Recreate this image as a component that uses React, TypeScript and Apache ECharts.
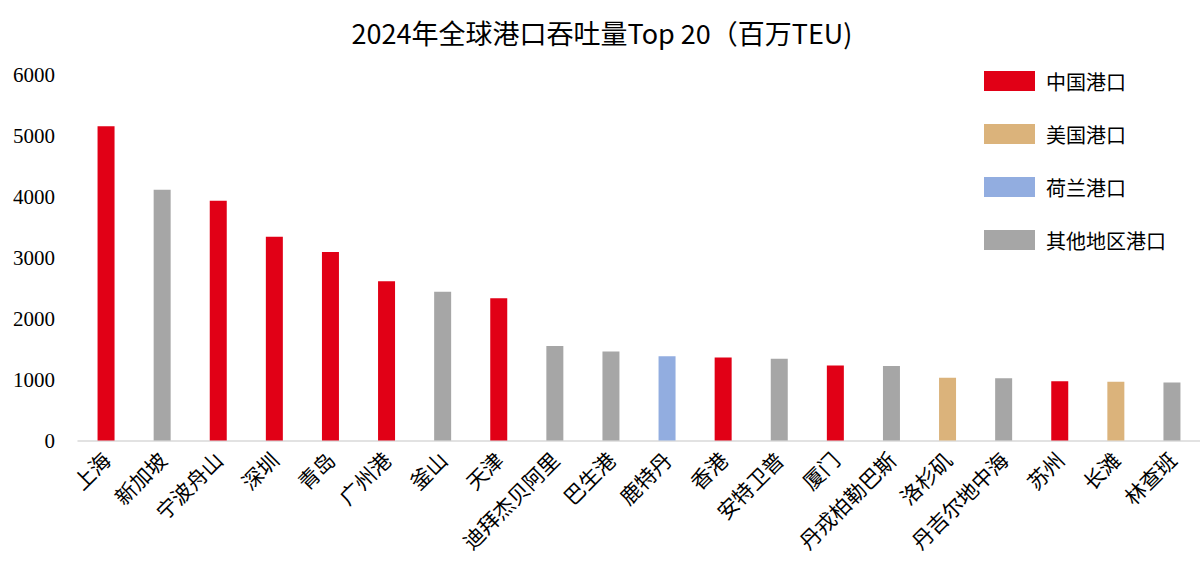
import React, { useEffect, useRef } from "react";
import * as echarts from "echarts";

// 2024 container throughput of the world's top 20 ports
const ports = [
  "上海", "新加坡", "宁波舟山", "深圳", "青岛", "广州港", "釜山", "天津",
  "迪拜杰贝阿里", "巴生港", "鹿特丹", "香港", "安特卫普", "厦门",
  "丹戎柏勒巴斯", "洛杉矶", "丹吉尔地中海", "苏州", "长滩", "林查班",
];
const throughput = [
  5150, 4110, 3930, 3340, 3090, 2610, 2440, 2330, 1550, 1460,
  1380, 1360, 1340, 1230, 1220, 1030, 1020, 970, 965, 950,
];
// group of each port (index into groupNames)
const portGroup = [0, 3, 0, 0, 0, 0, 3, 0, 3, 3, 2, 0, 3, 0, 3, 1, 3, 0, 1, 3];
const groupNames = ["中国港口", "美国港口", "荷兰港口", "其他地区港口"];
const groupColors = ["#E10016", "#DBB37B", "#92ADE0", "#A6A6A6"];
const yTicks = { min: 0, max: 6000, interval: 1000 };

const cjkFont = '"Noto Sans CJK SC", sans-serif';
const serifFont = '"Liberation Serif", "DejaVu Serif", serif';

export default function App() {
  const ref = useRef<HTMLDivElement>(null);

  useEffect(() => {
    if (!ref.current) return;
    const chart = echarts.init(ref.current, null, { renderer: "svg" });

    const series = groupNames.map((name, g) => ({
      name,
      type: "bar",
      stack: "ports",
      barWidth: 17,
      itemStyle: { color: groupColors[g] },
      data: throughput.map((v, i) => (portGroup[i] === g ? v : "-")),
    }));

    chart.setOption({
      animation: false,
      backgroundColor: "#ffffff",
      title: {
        text: "2024年全球港口吞吐量Top 20（百万TEU)",
        left: 597,
        textAlign: "center",
        top: 14,
        textStyle: {
          fontFamily: cjkFont,
          fontSize: 27,
          fontWeight: "normal",
          color: "#000000",
        },
      },
      legend: {
        orient: "vertical",
        left: 984,
        top: 71,
        padding: 0,
        itemWidth: 51,
        itemHeight: 20,
        itemGap: 33,
        icon: "rect",
        textStyle: {
          fontFamily: cjkFont,
          fontSize: 20,
          color: "#000000",
          padding: [0, 0, 0, 6],
        },
        data: groupNames,
      },
      grid: { left: 78, top: 74.5, width: 1133, height: 366, containLabel: false },
      xAxis: {
        type: "category",
        data: ports,
        axisLine: { lineStyle: { color: "#D9D9D9", width: 1.5 } },
        axisTick: { show: false },
        axisLabel: {
          rotate: 45,
          interval: 0,
          margin: 15,
          fontFamily: cjkFont,
          fontSize: 21,
          color: "#000000",
        },
      },
      yAxis: {
        type: "value",
        min: yTicks.min,
        max: yTicks.max,
        interval: yTicks.interval,
        axisLine: { show: false },
        axisTick: { show: false },
        splitLine: { show: false },
        axisLabel: {
          margin: 23,
          formatter: (v: number) => String(v),
          fontFamily: serifFont,
          fontSize: 21,
          color: "#000000",
        },
      },
      series,
    });

    return () => chart.dispose();
  }, []);

  return (
    <div
      ref={ref}
      style={{ position: "fixed", left: 0, top: 0, width: 1200, height: 570 }}
    />
  );
}
